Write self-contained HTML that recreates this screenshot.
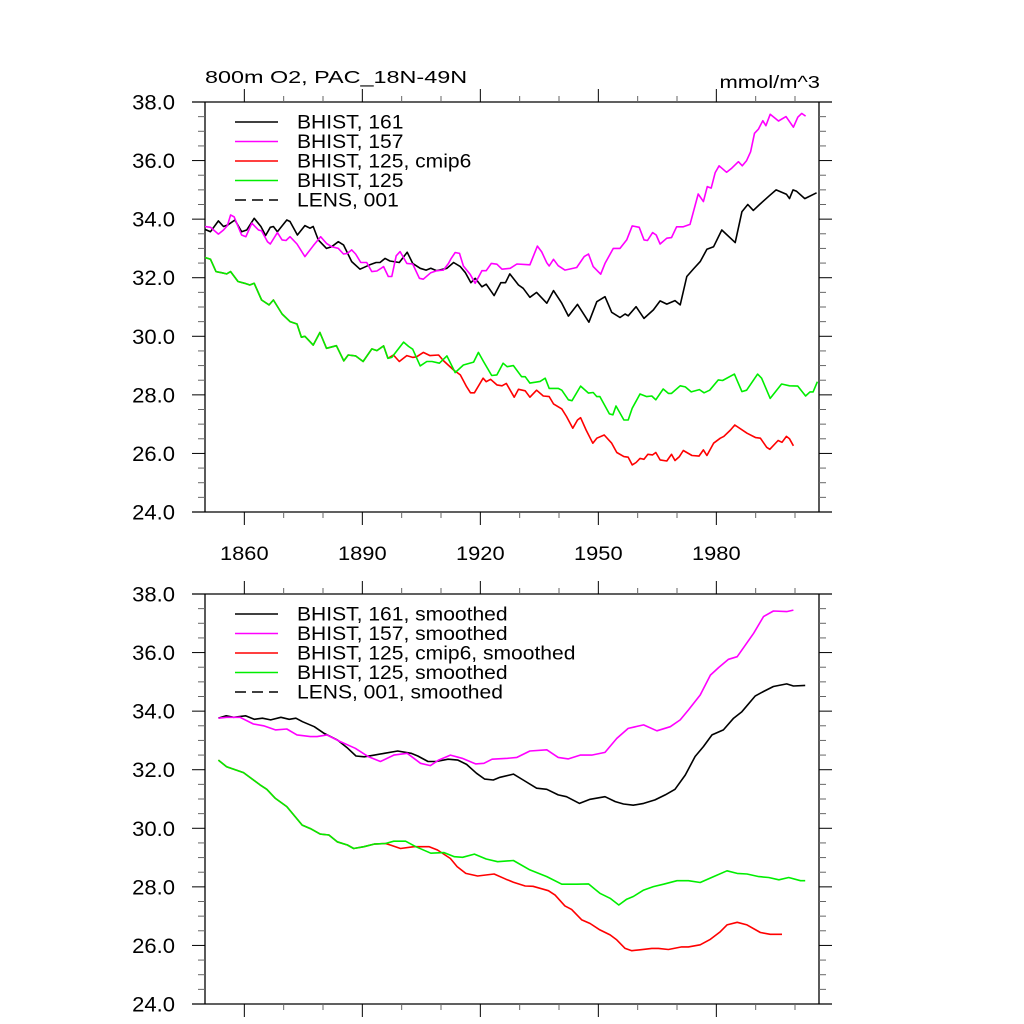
<!DOCTYPE html>
<html><head><meta charset="utf-8">
<style>
html,body{margin:0;padding:0;background:#fff;}
svg{display:block;font-family:"Liberation Sans",Arial,sans-serif;}
</style></head>
<body>
<svg id="chart" width="1024" height="1024" viewBox="0 0 1024 1024" xmlns="http://www.w3.org/2000/svg">
<rect width="1024" height="1024" fill="#fff"/>
<text transform="translate(205,83) scale(1.3,1)" font-size="18">800m O2, PAC_18N-49N</text>
<text transform="translate(820,88) scale(1.22,1)" font-size="18" text-anchor="end">mmol/m^3</text>
<g id="top-panel"></g>
<g id="bottom-panel"></g>
</svg>
<script>
// ---- data: top panel (annual) ----
const tBlackYears=[1850,1851.4,1853.4,1854.7,1855.9,1857.6,1859.3,1860.6,1862.5,1864.2,1865.4,1866.6,1867.4,1868.4,1870.8,1871.6,1873.5,1875.4,1876.7,1877.5,1878.8,1880.9,1882.2,1883.9,1885.2,1887.3,1889.4,1891.9,1893.5,1894.5,1895.8,1897,1899.4,1901.4,1902.8,1904.7,1906.2,1907.4,1908.9,1911.5,1913.2,1914.9,1916.2,1917.6,1918.7,1920.4,1921.5,1923.5,1925.2,1926.4,1927.5,1929.7,1930.9,1932.6,1934.3,1936.9,1938.6,1940.7,1942.4,1944.7,1947.6,1949.6,1951.7,1953.4,1955.5,1956.8,1957.6,1959.6,1961.6,1964,1965.7,1967.4,1969.5,1970.8,1972.5,1974.2,1975.9,1977.6,1979.3,1981.4,1984.8,1986.5,1988,1989.4,1991,1993.5,1995.2,1997.8,1998.6,1999.5,2000.4,2002.5,2005.5];
const tBlackVals=[33.65,33.57,33.94,33.75,33.81,33.97,33.57,33.63,34.03,33.75,33.44,33.72,33.75,33.57,33.97,33.92,33.46,33.78,33.69,33.75,33.29,33.0,33.06,33.23,33.12,32.55,32.29,32.44,32.52,32.52,32.66,32.57,32.52,32.87,32.49,32.32,32.26,32.32,32.24,32.32,32.52,32.38,32.17,31.83,31.98,31.69,31.78,31.39,31.83,31.83,32.13,31.75,31.64,31.33,31.5,31.13,31.56,31.13,30.69,31.09,30.48,31.18,31.35,30.82,30.64,30.76,30.7,31.01,30.61,30.9,31.21,31.1,31.22,31.07,32.04,32.3,32.55,32.97,33.06,33.63,33.2,34.25,34.5,34.3,34.5,34.8,35.0,34.85,34.7,35.0,34.95,34.7,34.9];
const tMagYears=[1850,1851.4,1853.4,1854.7,1855.7,1856.5,1857.4,1859.3,1860.4,1861.9,1863.6,1864.4,1865.9,1866.6,1868.4,1869.6,1870.6,1871.6,1873.4,1875.4,1877.5,1879.4,1880.9,1882.2,1883.9,1885.2,1886.2,1887.3,1888.3,1889.6,1891.1,1892.4,1893.7,1895.4,1896.6,1897.5,1898.6,1899.6,1901.3,1902.8,1904.5,1905.5,1907.4,1908.9,1910.6,1911.9,1912.6,1913.6,1914.7,1915.7,1917.4,1918.7,1920.4,1921.5,1922.8,1924.2,1925.5,1927.6,1929.3,1932.6,1934.5,1935.6,1936.9,1937.5,1938.6,1939.8,1941.5,1944.5,1946.4,1947.5,1948.7,1950.6,1951.7,1953.8,1955.5,1957.2,1958.6,1960.4,1961.6,1962.5,1963.8,1964.7,1965.7,1967.4,1968.6,1969.9,1971.6,1973.3,1975.4,1976.7,1977.7,1978.7,1979.7,1980.7,1982.6,1983.9,1985.6,1986.6,1987.7,1988.7,1989.7,1990.7,1991.8,1992.6,1993.7,1995.8,1997.7,1999.6,2000.7,2001.7,2002.7];
const tMagVals=[33.75,33.72,33.49,33.63,33.78,34.14,34.08,33.46,33.40,33.86,33.63,33.6,33.23,33.15,33.54,33.29,33.27,33.40,33.15,32.72,33.09,33.40,33.17,33.06,33.0,32.81,32.83,32.95,32.81,32.52,32.52,32.21,32.23,32.38,32.04,32.04,32.75,32.89,32.49,32.47,31.98,31.95,32.17,32.24,32.26,32.49,32.66,32.86,32.83,32.40,32.12,31.81,32.24,32.24,32.49,32.46,32.29,32.32,32.47,32.44,33.08,32.88,32.51,32.40,32.63,32.41,32.26,32.35,32.72,32.81,32.38,32.12,32.49,33.0,33.0,33.29,33.77,33.72,33.29,33.27,33.54,33.46,33.15,33.35,33.37,33.74,33.74,33.82,34.86,34.6,35.11,35.06,35.59,35.82,35.6,35.74,35.96,35.82,36.0,36.3,36.93,37.07,37.36,37.19,37.58,37.35,37.5,37.14,37.48,37.61,37.52];
const tRedYears=[1850,1851.4,1852.8,1854.2,1855.5,1856.5,1858.4,1860.1,1861.4,1862.5,1864.4,1866.3,1867.4,1869.6,1871.6,1873.4,1874.5,1875.4,1877.5,1879.2,1880.9,1883.4,1885.3,1886.4,1888.3,1890.2,1892.4,1893.7,1895.4,1896.5,1897.9,1899.4,1901.3,1902.8,1903.8,1905.5,1907.2,1909.4,1910.6,1913.2,1914.9,1916.5,1917.5,1918.5,1920.7,1921.5,1922.6,1924.2,1925.5,1926.6,1928.6,1929.7,1931.4,1932.6,1934.3,1936,1937.5,1938.6,1940.7,1941.9,1943.5,1944.7,1945.5,1946.9,1948.6,1949.6,1951.5,1953.4,1954.7,1956.5,1957.6,1958.6,1959.6,1960.6,1961.6,1962.6,1963.8,1964.6,1965.7,1967.4,1968.6,1969.5,1970.6,1971.6,1973.8,1975.6,1976.7,1977.6,1979.3,1981,1981.9,1983.6,1984.7,1987.8,1990,1991.2,1992.8,1993.6,1995.7,1996.7,1997.8,1998.6,1999.6];
const tRedVals=[32.69,32.63,32.21,32.17,32.13,32.21,31.87,31.81,31.75,31.81,31.24,31.07,31.24,30.76,30.50,30.42,29.97,30.0,29.70,30.13,29.59,29.68,29.16,29.36,29.33,29.14,29.57,29.51,29.67,29.25,29.36,29.14,29.34,29.28,29.3,29.45,29.34,29.36,29.17,28.85,28.68,28.28,28.07,28.07,28.57,28.45,28.53,28.34,28.31,28.39,27.92,28.19,28.14,27.92,28.16,27.96,27.94,27.69,27.52,27.26,26.86,27.14,27.22,26.80,26.35,26.52,26.63,26.35,26.03,25.89,25.87,25.61,25.69,25.83,25.8,25.97,25.95,26.03,25.78,25.74,25.97,25.76,25.89,26.10,25.93,25.91,26.12,25.93,26.35,26.52,26.58,26.80,26.97,26.69,26.54,26.52,26.21,26.14,26.44,26.38,26.58,26.5,26.26];
const tGreenYears=[1850,1851.4,1852.8,1854.2,1855.5,1856.5,1858.4,1860.1,1861.4,1862.5,1864.4,1866.3,1867.4,1869.6,1871.6,1873.4,1874.5,1875.4,1877.5,1879.2,1880.9,1883.4,1885.3,1886.4,1888.3,1890.2,1892.4,1893.7,1895.4,1896.5,1897.5,1900.5,1901.8,1902.8,1904.7,1906.4,1907.7,1909.6,1911.5,1913.6,1915.7,1918.3,1919.5,1920.8,1922.9,1924.2,1925.8,1926.8,1928.4,1930.5,1931.4,1932.6,1935.2,1936.5,1937.5,1939.8,1940.7,1942.4,1943.3,1945.5,1947.5,1948.7,1949.6,1950.4,1952.8,1953.7,1954.5,1956.5,1957.6,1958.6,1960.6,1962.3,1963.6,1964.6,1966.5,1967.8,1968.6,1970.8,1972.1,1973.6,1975.7,1976.9,1978.3,1980.5,1981.6,1984.6,1986.5,1987.7,1990.5,1991.5,1993.7,1996.6,1998.6,2000.7,2002.7,2003.8,2004.6,2005.7];
const tGreenVals=[32.69,32.63,32.21,32.17,32.13,32.21,31.87,31.81,31.75,31.81,31.24,31.07,31.24,30.76,30.50,30.42,29.97,30.0,29.70,30.13,29.59,29.68,29.16,29.36,29.33,29.14,29.57,29.51,29.67,29.25,29.28,29.80,29.65,29.56,28.99,29.14,29.14,29.08,29.33,28.76,29.02,29.12,29.45,29.14,28.66,28.68,29.08,28.96,29.0,28.62,28.62,28.4,28.46,28.57,28.22,28.22,28.16,27.83,27.8,28.30,28.06,28.08,27.94,27.94,27.35,27.32,27.62,27.14,27.14,27.54,28.03,27.94,27.96,27.83,28.2,28.05,28.05,28.31,28.27,28.1,28.18,28.07,28.16,28.51,28.49,28.71,28.11,28.16,28.71,28.57,27.88,28.37,28.31,28.3,27.96,28.1,28.1,28.45];
// ---- data: bottom panel (smoothed) ----
const bBlackYears=[1853.4,1855.4,1857.3,1860.3,1862.5,1864.6,1866.7,1869.3,1871.4,1873.1,1874.8,1877.8,1880.3,1883.7,1886.3,1888.4,1890.5,1893.1,1895.6,1899,1902.4,1904.1,1906.7,1908.8,1911.8,1914.3,1916.5,1919,1921.1,1923.3,1925,1928.4,1930.9,1934.3,1936.9,1939.8,1941.9,1945.2,1947.9,1951.7,1954.3,1956.4,1958.9,1961.5,1964.4,1967,1969.5,1972.1,1974.6,1976.7,1978.9,1981.8,1984.4,1986.5,1989.9,1992,1994.5,1997.9,1999.6,2002.6];
const bBlackVals=[33.76,33.84,33.79,33.84,33.72,33.76,33.70,33.79,33.72,33.76,33.64,33.47,33.24,33.01,32.73,32.47,32.44,32.50,32.56,32.64,32.56,32.47,32.28,32.28,32.36,32.33,32.18,31.88,31.68,31.65,31.74,31.85,31.65,31.37,31.33,31.14,31.08,30.85,30.99,31.08,30.91,30.83,30.79,30.85,30.97,31.14,31.33,31.82,32.45,32.79,33.19,33.36,33.76,33.98,34.52,34.67,34.84,34.93,34.86,34.88];
const bMagYears=[1853.4,1855.5,1858.9,1862.3,1864.9,1867.9,1870.8,1873.4,1876.8,1878.5,1881,1884.4,1888.2,1891.6,1894.6,1898,1901.4,1904.8,1907.3,1909.4,1912.4,1915.4,1918.8,1920.9,1923,1926.9,1929.3,1932.6,1936.9,1939.8,1942.4,1945.4,1948.3,1951.7,1954.7,1957.6,1961.5,1964.9,1968.3,1970.8,1972.9,1975.9,1978.5,1980.6,1983.1,1985.3,1989.5,1992,1994.5,1997.9,1999.6];
const bMagVals=[33.76,33.79,33.79,33.56,33.50,33.36,33.39,33.19,33.13,33.13,33.19,32.96,32.73,32.44,32.28,32.50,32.56,32.22,32.14,32.33,32.50,32.39,32.20,32.22,32.36,32.39,32.42,32.64,32.68,32.42,32.37,32.50,32.50,32.59,33.07,33.41,33.53,33.33,33.47,33.70,34.04,34.55,35.23,35.49,35.77,35.86,36.66,37.23,37.42,37.40,37.45];
const bRedYears=[1853.4,1855.5,1859.8,1864,1865.7,1867.9,1870.8,1874.7,1876.8,1879.3,1881.5,1883.6,1886.2,1887.8,1890.4,1893,1895.9,1897.1,1899.7,1903.1,1907,1909.1,1912.4,1914.1,1916.3,1919.3,1923.5,1926.5,1928.4,1931.4,1933.4,1937.3,1939,1941.5,1943.2,1945.8,1947.9,1950.4,1953,1954.7,1956.8,1958.5,1960.6,1963.6,1965.3,1967.8,1971.2,1972.9,1975.9,1978.5,1981,1982.7,1985.3,1987.8,1991.2,1993.7,1996.7];
const bRedVals=[32.33,32.10,31.90,31.48,31.33,31.02,30.74,30.11,29.99,29.80,29.77,29.54,29.43,29.31,29.37,29.46,29.48,29.43,29.31,29.37,29.37,29.26,28.97,28.69,28.46,28.37,28.44,28.26,28.16,28.03,28.02,27.87,27.72,27.35,27.23,26.87,26.75,26.53,26.36,26.19,25.90,25.82,25.85,25.90,25.90,25.86,25.95,25.95,26.02,26.21,26.47,26.70,26.79,26.70,26.44,26.38,26.38];
const bGreenYears=[1853.4,1855.5,1859.8,1864,1865.7,1867.9,1870.8,1874.7,1876.8,1879.3,1881.5,1883.6,1886.2,1887.8,1890.4,1893,1895.9,1898,1901,1903.6,1907.4,1910.8,1913.4,1915.5,1918.5,1921.5,1924.4,1928.4,1932.6,1936.9,1940.7,1944.5,1947.5,1950.4,1953,1955.2,1957.2,1958.9,1961.5,1964,1966.6,1970,1972.9,1975.9,1979.3,1982.7,1985.3,1987.8,1990.8,1993.3,1995.9,1998.4,2001.4,2002.6];
const bGreenVals=[32.33,32.10,31.90,31.48,31.33,31.02,30.74,30.11,29.99,29.80,29.77,29.54,29.43,29.31,29.37,29.46,29.48,29.56,29.56,29.37,29.15,29.17,29.03,29.01,29.12,28.95,28.86,28.90,28.58,28.35,28.09,28.09,28.10,27.78,27.61,27.38,27.58,27.67,27.89,28.01,28.09,28.21,28.21,28.15,28.35,28.55,28.46,28.44,28.35,28.32,28.24,28.32,28.21,28.21];
const yTickLabels=["24.0","26.0","28.0","30.0","32.0","34.0","36.0","38.0"];
const xTickLabels=["1860","1890","1920","1950","1980"];
const topLegend=["BHIST, 161","BHIST, 157","BHIST, 125, cmip6","BHIST, 125","LENS, 001"];
const bottomLegend=["BHIST, 161, smoothed","BHIST, 157, smoothed","BHIST, 125, cmip6, smoothed","BHIST, 125, smoothed","LENS, 001, smoothed"];

const NS="http://www.w3.org/2000/svg";
const X0=205,X1=819,XMIN=1850,XMAX=2006.1,YMIN=24,YMAX=38;
function xs(yr){return X0+(yr-XMIN)/(XMAX-XMIN)*(X1-X0);}
function mk(tag,attrs,parent){const e=document.createElementNS(NS,tag);for(const k in attrs)e.setAttribute(k,attrs[k]);parent.appendChild(e);return e;}
function txt(parent,x,y,size,sx,anchor,str){
  const t=mk('text',{transform:'translate('+x.toFixed(1)+','+y.toFixed(1)+') scale('+sx+',1)','font-size':size,'text-anchor':anchor},parent);
  t.textContent=str;return t;
}
const colors=["#000","#ff00ff","#ff0000","#00ee00"];

function drawPanel(g,top,series,legend,withXLabels,prefix){
  const bot=top+410;
  const ys=v=>bot-(v-YMIN)/(YMAX-YMIN)*(bot-top);
  let l;
  l=mk('line',{x1:192,y1:top,x2:832,y2:top,stroke:'#000','stroke-width':1.3},g);
  
  l=mk('line',{x1:192,y1:bot,x2:832,y2:bot,stroke:'#000','stroke-width':1.3},g);
  
  l=mk('line',{x1:X0,y1:top,x2:X0,y2:bot,stroke:'#000','stroke-width':1.3},g);
  
  l=mk('line',{x1:X1,y1:top,x2:X1,y2:bot,stroke:'#000','stroke-width':1.3},g);
  
  for(let v=24;v<=38.001;v+=0.5){
    const y=ys(v);const major=Math.abs(v%2)<1e-6;
    const len=major?13:7;
    const t1=mk('line',{x1:X0-len,y1:y,x2:X0,y2:y,stroke:major?'#000':'#666','stroke-width':1},g);
    
    const t2=mk('line',{x1:X1,y1:y,x2:X1+len,y2:y,stroke:major?'#000':'#666','stroke-width':1},g);
    
  }
  yTickLabels.forEach(s=>{
    const t=txt(g,175,ys(parseFloat(s))+7.5,21,1.05,'end',s);
    
  });
  for(let yr=1860;yr<=2000;yr+=10){
    const x=xs(yr);const major=(yr-1860)%30===0;const len=major?13:6;
    const a=mk('line',{x1:x,y1:top-len,x2:x,y2:top,stroke:major?'#000':'#666','stroke-width':1},g);
    
    const b=mk('line',{x1:x,y1:bot,x2:x,y2:bot+len,stroke:major?'#000':'#666','stroke-width':1},g);
    
  }
  if(withXLabels){
    xTickLabels.forEach(s=>{
      const t=txt(g,xs(parseFloat(s)),bot+48,19,1.15,'middle',s);
      
    });
  }
  const names=['bhist-161','bhist-157','bhist-125-cmip6','bhist-125'];
  series.forEach((s,i)=>{
    const n=Math.min(s[0].length,s[1].length);const pts=[];
    for(let k=0;k<n;k++)pts.push(xs(s[0][k]).toFixed(1)+','+ys(s[1][k]).toFixed(1));
    const p=mk('polyline',{points:pts.join(' '),fill:'none',stroke:colors[i],'stroke-width':1.6,'stroke-linejoin':'round'},g);
    
  });
  legend.forEach((s,i)=>{
    const y=top+20+i*19.5;
    const ln=mk('line',{x1:235,y1:y,x2:278,y2:y,stroke:i<4?colors[i]:'#000','stroke-width':1.5},g);
    if(i===4)ln.setAttribute('stroke-dasharray','11,6');
    
    const t=txt(g,297,y+6.5,19.5,1.08,'start',s);
    
  });
}
drawPanel(document.getElementById('top-panel'),102,
  [[tBlackYears,tBlackVals],[tMagYears,tMagVals],[tRedYears,tRedVals],[tGreenYears,tGreenVals]],topLegend,true,'top');
drawPanel(document.getElementById('bottom-panel'),594,
  [[bBlackYears,bBlackVals],[bMagYears,bMagVals],[bRedYears,bRedVals],[bGreenYears,bGreenVals]],bottomLegend,false,'bottom');
</script>
</body></html>
